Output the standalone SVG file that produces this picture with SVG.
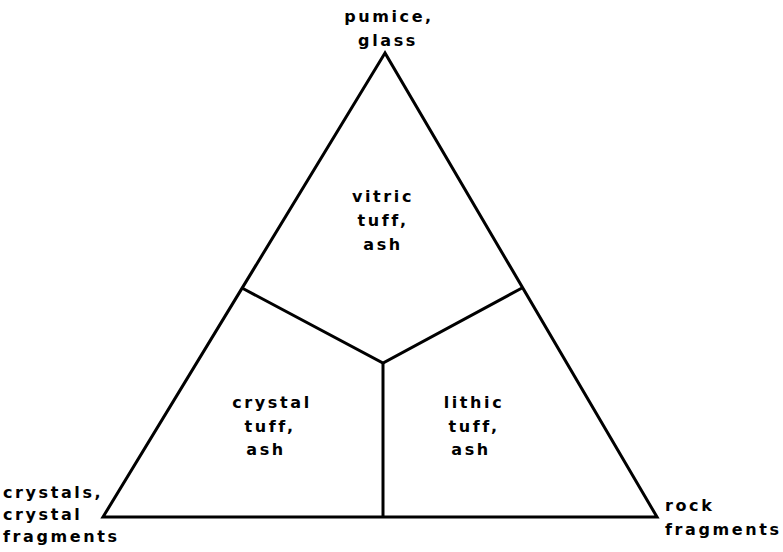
<svg xmlns="http://www.w3.org/2000/svg" width="783" height="552" viewBox="0 0 783 552">
<style>
.t{font-family:"DejaVu Sans","Liberation Sans",Arial,sans-serif;font-weight:bold;font-size:16px;letter-spacing:2.6px;fill:#000}
.m{text-anchor:middle}
.ln{stroke:#000;stroke-width:3;fill:none;stroke-linejoin:miter;stroke-linecap:butt}
</style>
<rect width="783" height="552" fill="#fff"/>
<g id="connectors">
<polygon class="ln" points="385,53 103,517 657,517"/>
<polyline class="ln" points="242,288 383,363 522,288"/>
<line class="ln" x1="383" y1="363" x2="383" y2="517"/>
</g>
<g id="apex-glass">
<text class="t m" x="389" y="22">pumice,</text>
<text class="t m" x="388" y="46">glass</text>
</g>
<g id="corner-crystals">
<text class="t" x="3" y="498">crystals,</text>
<text class="t" x="3" y="520">crystal</text>
<text class="t" x="3" y="542">fragments</text>
</g>
<g id="corner-rock">
<text class="t" x="665" y="511">rock</text>
<text class="t" x="665" y="535">fragments</text>
</g>
<g id="field-vitric">
<text class="t m" x="383" y="202">vitric</text>
<text class="t m" x="383" y="226">tuff,</text>
<text class="t m" x="383" y="250">ash</text>
</g>
<g id="field-crystal">
<text class="t m" x="272" y="408">crystal</text>
<text class="t m" x="270" y="432">tuff,</text>
<text class="t m" x="266" y="455">ash</text>
</g>
<g id="field-lithic">
<text class="t m" x="474" y="408">lithic</text>
<text class="t m" x="474" y="432">tuff,</text>
<text class="t m" x="471" y="455">ash</text>
</g>
</svg>
